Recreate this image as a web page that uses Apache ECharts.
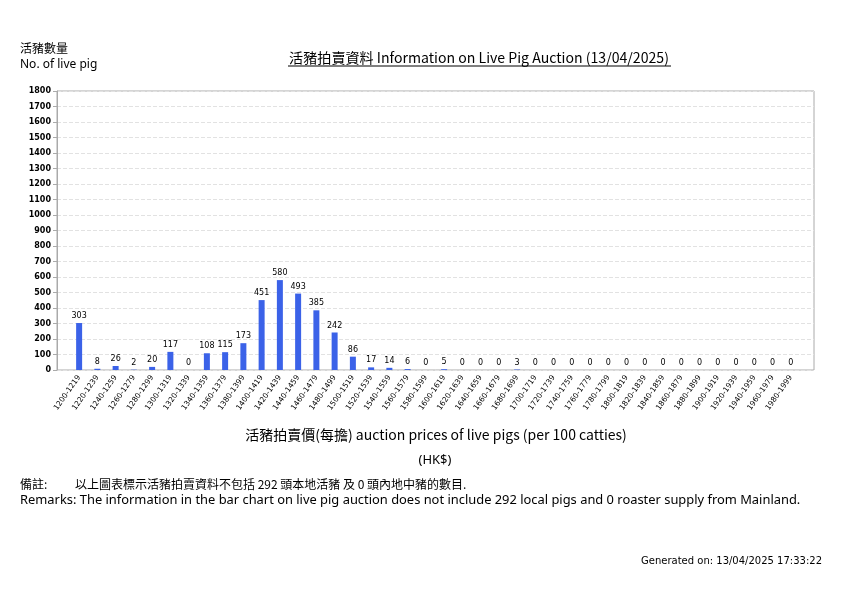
<!DOCTYPE html>
<html><head><meta charset="utf-8">
<script src="https://cdn.jsdelivr.net/npm/echarts@6/dist/echarts.min.js"></script>
<style>html,body{margin:0;padding:0;background:#fff}#c{width:842px;height:595px}</style>
</head><body><div id="c"></div>
<script>
var categories = ['1200-1219','1220-1239','1240-1259','1260-1279','1280-1299','1300-1319','1320-1339','1340-1359','1360-1379','1380-1399','1400-1419','1420-1439','1440-1459','1460-1479','1480-1499','1500-1519','1520-1539','1540-1559','1560-1579','1580-1599','1600-1619','1620-1639','1640-1659','1660-1679','1680-1699','1700-1719','1720-1739','1740-1759','1760-1779','1780-1799','1800-1819','1820-1839','1840-1859','1860-1879','1880-1899','1900-1919','1920-1939','1940-1959','1960-1979','1980-1999'];
var pigCounts = [303,8,26,2,20,117,0,108,115,173,451,580,493,385,242,86,17,14,6,0,5,0,0,0,3,0,0,0,0,0,0,0,0,0,0,0,0,0,0,0];
var yMin = 0, yMax = 1800, yStep = 100;

var chart = echarts.init(document.getElementById('c'), null, {renderer:'canvas'});
var F = 'DejaVu Sans';
chart.setOption({
  animation:false,
  grid:[
    {left:57,right:28,top:91,bottom:225,show:true,borderColor:'#aaa',borderWidth:1,backgroundColor:'transparent'},
    {left:70,right:42,top:91,bottom:225}
  ],
  xAxis:[
    {gridIndex:0,type:'value',min:0,max:1,show:false},
    {gridIndex:1,type:'category',data:categories,boundaryGap:true,
     axisLine:{show:false},axisTick:{show:false},
     axisLabel:{rotate:55,fontSize:7.5,fontFamily:F,color:'#000',interval:0,margin:6}}
  ],
  yAxis:[
    {gridIndex:0,type:'value',min:yMin,max:yMax,interval:yStep,
     axisLine:{show:true,lineStyle:{color:'#aaa'}},
     axisTick:{show:true,length:4,lineStyle:{color:'#aaa'}},
     axisLabel:{fontSize:8,fontWeight:'bold',fontFamily:F,color:'#000',margin:6,formatter:function(v){return String(v);}},
     splitLine:{show:true,lineStyle:{color:'#e2e2e2',type:'dashed'}}},
    {gridIndex:1,type:'value',min:yMin,max:yMax,interval:yStep,show:false,splitLine:{show:false}}
  ],
  series:[{type:'bar',xAxisIndex:1,yAxisIndex:1,data:pigCounts,barWidth:6,
    itemStyle:{color:'#3b62e8'},
    label:{show:true,position:'top',fontSize:8,fontFamily:F,color:'#000',distance:3}}],
  graphic:[
    {type:'text',left:20,top:42,style:{text:'活豬數量',font:'12px "Noto Sans CJK TC"',fill:'#000'}},
    {type:'text',left:20,top:59,style:{text:'No. of live pig',font:'12px "Noto Sans"',fill:'#000'}},
    {type:'text',x:479,y:58,style:{text:'活豬拍賣資料 Information on Live Pig Auction (13/04/2025)',font:'14.1px "Noto Sans CJK TC"',fill:'#000',align:'center',verticalAlign:'middle'}},
    {type:'line',shape:{x1:288,y1:66,x2:671,y2:66},style:{stroke:'#000',lineWidth:1}},
    {type:'text',x:436,y:435,style:{text:'活豬拍賣價(每擔) auction prices of live pigs (per 100 catties)',font:'14px "Noto Sans CJK TC"',fill:'#000',align:'center',verticalAlign:'middle'}},
    {type:'text',x:435,y:460,style:{text:'(HK$)',font:'13px "Noto Sans"',fill:'#000',align:'center',verticalAlign:'middle'}},
    {type:'text',x:20,y:484,style:{text:'備註:',font:'12px "Noto Sans CJK TC"',fill:'#000',verticalAlign:'middle'}},
    {type:'text',x:75,y:484,style:{text:'以上圖表標示活豬拍賣資料不包括 292 頭本地活豬 及 0 頭內地中豬的數目.',font:'12px "Noto Sans CJK TC"',fill:'#000',verticalAlign:'middle'}},
    {type:'text',x:20,y:500,style:{text:'Remarks: The information in the bar chart on live pig auction does not include 292 local pigs and 0 roaster supply from Mainland.',font:'12.9px "Noto Sans"',fill:'#000',verticalAlign:'middle'}},
    {type:'text',x:822,y:561,style:{text:'Generated on: 13/04/2025 17:33:22',font:'10px "DejaVu Sans"',fill:'#000',align:'right',verticalAlign:'middle'}}
  ]
});
</script></body></html>
